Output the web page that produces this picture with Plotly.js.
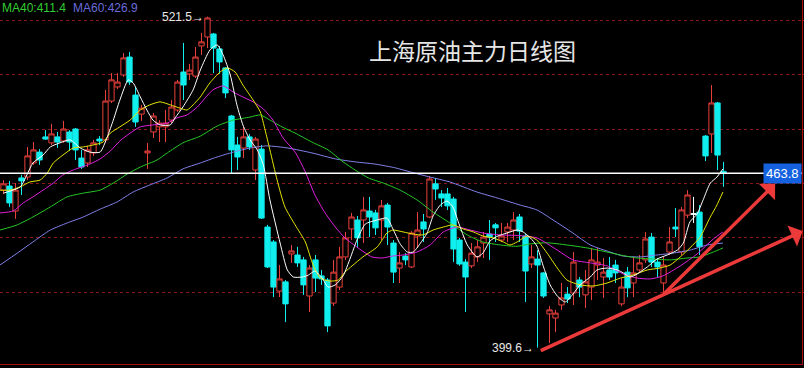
<!DOCTYPE html>
<html>
<head>
<meta charset="utf-8">
<script src="https://cdn.plot.ly/plotly-3.0.1.min.js"></script>
<style>html,body{margin:0;padding:0;background:#000;}#chart{width:804px;height:368px;}</style>
</head>
<body>
<div id="chart"></div>
<script>
// ---- daily candles (price) ----
const open = [457.6,459.1,449.9,462.1,462.4,467.6,471.6,477.2,475.0,477.2,475.7,479.0,480.1,469.4,467.6,471.3,476.4,476.1,490.4,495.6,500.0,506.6,492.6,485.6,471.3,479.0,480.9,480.9,483.4,487.1,501.1,500.4,499.6,510.7,514.0,515.1,509.6,502.6,484.9,474.2,473.1,477.2,465.0,472.7,444.0,438.5,420.4,423.8,434.1,433.7,431.9,418.6,431.9,426.0,424.5,416.0,421.9,433.0,443.3,446.6,446.6,449.9,449.2,446.6,452.1,438.1,428.9,433.3,429.3,440.7,445.9,447.7,459.9,456.2,456.2,454.3,439.2,431.1,429.7,433.0,438.1,441.4,444.8,439.2,442.2,442.9,447.7,440.7,430.4,432.2,427.1,412.0,410.5,415.3,419.3,419.7,424.5,419.0,421.9,430.0,425.6,428.2,430.0,415.7,427.4,423.4,428.2,431.9,440.3,431.1,423.4,434.8,444.0,434.8,448.4,448.8,449.5,477.5,478.3,489.7,464.5];
const high = [461.3,461.0,460.2,463.2,473.5,475.3,472.7,479.7,482.0,479.0,483.1,479.7,480.5,472.4,473.9,476.1,477.5,494.5,500.7,500.7,508.1,508.5,495.6,489.0,475.0,486.0,483.4,487.1,490.8,498.2,511.8,504.1,510.3,515.5,521.5,515.5,510.7,502.9,485.3,477.2,480.9,478.3,477.2,474.2,444.8,439.2,430.0,424.5,437.4,436.7,433.0,430.0,433.7,428.2,425.2,431.9,436.7,442.2,449.2,448.1,455.1,455.1,450.3,454.0,452.9,439.2,434.8,434.4,442.5,449.5,448.8,462.8,462.1,457.6,458.4,455.1,440.0,432.2,438.1,439.2,442.2,446.6,445.5,445.5,445.5,449.5,448.8,441.4,437.4,435.5,427.4,414.9,413.5,423.4,421.9,434.8,425.6,428.2,436.3,436.3,432.6,433.0,431.9,425.2,429.3,433.0,433.7,442.2,441.8,432.6,433.0,444.0,451.0,451.4,457.6,455.1,452.1,477.9,496.3,490.1,468.0];
const low = [456.2,451.4,447.0,455.8,461.3,466.9,466.9,476.1,474.2,473.1,475.0,472.0,468.7,465.4,466.1,470.2,474.2,475.0,489.7,494.8,499.3,496.3,480.9,483.1,465.4,476.8,475.3,475.3,482.3,486.4,490.8,498.2,498.9,507.4,509.9,500.7,500.4,491.5,463.9,465.0,469.4,472.4,461.3,447.0,428.9,418.2,418.2,409.0,430.8,429.3,419.0,412.7,420.1,422.7,405.3,414.9,420.8,431.9,439.2,436.7,438.1,440.3,441.1,439.2,437.4,423.4,423.4,430.0,428.9,436.3,438.5,447.3,454.0,451.4,450.3,431.1,429.7,412.7,428.9,431.1,432.6,431.9,438.5,438.5,438.5,439.2,438.5,416.4,428.9,399.6,417.9,401.3,405.3,413.5,416.0,415.3,418.2,414.2,417.1,424.5,417.9,424.5,423.4,414.9,418.2,418.2,427.1,430.8,429.3,425.2,419.7,433.7,440.3,433.7,447.3,445.5,433.7,468.3,471.3,465.0,458.8];
const close = [459.9,452.9,457.6,461.0,470.2,472.4,468.7,476.4,478.3,475.3,480.1,475.3,472.4,466.1,472.4,475.0,475.7,490.4,498.2,497.4,506.3,497.4,482.7,487.8,472.0,484.9,482.3,482.3,488.2,497.4,496.3,501.8,506.6,512.2,521.0,509.9,504.8,493.4,472.4,469.8,477.2,473.5,476.4,447.3,429.3,421.9,424.9,415.7,435.2,430.8,422.7,428.9,425.2,424.9,407.6,427.4,433.0,440.0,447.7,440.0,450.3,447.7,443.7,451.8,444.0,427.4,430.8,431.9,441.8,442.9,443.3,461.7,458.0,454.7,451.8,435.9,430.4,425.6,434.4,436.7,440.3,440.3,443.7,440.7,444.0,446.6,442.5,427.8,433.0,430.0,418.6,413.5,412.3,417.9,417.5,431.1,421.9,423.8,431.9,431.1,427.4,425.6,427.1,421.9,421.6,427.1,430.8,439.6,431.1,429.3,430.0,438.5,443.3,450.3,455.8,448.8,436.7,470.2,489.7,470.5,463.8];
const whiteDoji = [115];

// ---- moving averages (candle index, price) ----
const ma5X = [0,2.8,3.9,4.9,6.6,7.8,9.4,11.1,12.8,14.4,16.1,17.3,18.3,19.4,20.8,21.6,22.8,23.9,24.9,26.1,27.8,28.6,29.9,31.6,32.8,34.4,35.6,36.6,37.8,38.9,39.9,41.1,42.3,43.3,44.4,46.1,47.3,48.3,49.8,50.8,51.9,53.1,54.1,55.3,56.6,57.8,58.9,60.3,62.3,63.9,64.9,66.1,67.3,68.3,69.4,70.6,71.6,72.8,73.9,74.9,75.8,77.3,78.9,79.9,81.1,82.4,83.9,85.6,86.6,87.8,88.9,89.9,91.1,92.3,93.6,94.8,96.1,97.8,98.9,100.6,102.3,103.3,104.4,105.6,107.3,108.9,110.6,112.3,113.3,114.4,115.6,116.6,117.8,118.9,119.9];
const ma5 = [456.5,458.8,463.2,467.6,470.5,473.5,475.0,476.1,473.1,471.6,471.6,477.2,483.4,490.8,498.2,497.1,491.9,487.1,483.4,481.6,481.6,484.2,488.2,494.5,501.8,509.2,511.1,507.4,500.0,489.0,481.6,476.1,472.4,466.9,454.0,438.1,428.2,425.6,425.6,426.3,427.8,425.2,421.9,422.7,426.0,432.6,439.2,445.1,446.6,447.3,443.3,437.8,434.8,434.8,437.8,441.8,448.1,452.1,453.6,451.4,445.9,437.4,433.0,434.4,438.9,440.7,441.8,442.9,442.2,440.0,437.0,430.0,422.7,418.6,416.4,419.0,422.7,425.6,428.2,428.9,428.2,427.1,425.6,426.7,429.3,432.2,433.7,435.5,438.1,445.9,448.8,454.0,460.2,462.4,465.4];

const ma10X = [-0.6,1.1,2.8,4.4,6.1,7.3,8.3,9.9,11.6,13.3,14.9,16.6,17.8,19.4,21.1,22.8,24.4,26.1,27.8,29.4,30.6,31.6,32.8,34.4,36.1,37.3,38.6,39.9,41.6,42.8,43.6,44.4,45.6,46.9,48.6,50.3,51.6,52.8,54.4,55.8,56.9,58.1,59.9,62.3,63.9,64.9,66.6,68.3,69.9,71.6,73.3,74.9,76.6,78.3,79.9,81.6,83.3,84.4,85.6,87.3,88.9,90.6,92.3,93.9,96.1,98.3,100.6,102.8,104.9,107.3,109.4,111.1,112.8,114.4,116.1,117.8,118.9,119.9];
const ma10 = [457.6,457.6,458.8,460.6,461.3,463.9,467.6,470.5,473.1,473.5,474.2,475.3,478.6,480.9,483.4,487.1,489.0,490.1,489.0,487.8,487.1,489.0,491.9,497.1,501.1,502.6,501.1,496.3,490.8,486.4,479.7,472.4,461.3,451.4,444.8,438.5,430.0,425.2,424.1,424.5,427.4,429.7,433.0,436.7,441.8,442.9,442.2,441.4,441.1,442.9,444.0,444.8,443.3,442.2,440.7,440.0,438.5,437.4,438.5,440.7,439.2,434.4,428.9,424.5,422.7,422.3,423.4,425.2,426.3,428.2,428.9,430.0,433.0,436.3,440.3,447.7,452.1,456.9];

const ma20X = [-0.6,1.6,3.3,4.9,6.6,8.3,9.9,11.6,14.4,16.1,17.8,19.4,21.1,22.8,24.9,27.3,28.9,30.6,32.3,33.6,34.9,36.6,38.3,39.9,41.6,43.3,44.9,46.6,48.6,50.3,51.9,53.6,55.3,56.9,59.1,61.4,63.1,64.8,66.6,68.9,71.1,73.3,75.6,77.8,79.9,82.8,85.6,88.9,92.3,94.9,97.8,100.6,103.3,105.6,107.8,109.9,112.8,115.6,118.3,119.9];
const ma20 = [449.2,449.9,452.9,455.1,457.6,460.2,463.2,465.0,467.2,469.1,472.0,475.7,478.6,480.9,481.6,482.3,484.2,485.3,488.2,491.5,494.5,496.0,493.7,491.9,490.1,487.5,483.4,476.8,471.6,464.3,455.8,449.2,444.0,440.0,436.3,433.0,432.6,433.3,433.7,434.8,437.4,442.2,444.0,442.9,441.8,441.1,440.9,440.0,435.5,431.9,430.8,429.7,426.7,425.2,424.9,426.0,429.7,434.1,439.6,442.2];

const ma40X = [-0.6,2.3,4.9,7.8,10.6,13.3,16.1,18.3,20.6,22.8,25.6,27.3,29.9,32.8,35.6,38.3,41.1,42.8,44.1,46.4,48.6,51.4,54.1,56.6,58.6,60.8,63.3,66.1,68.9,71.6,74.4,77.3,79.9,82.8,85.6,87.8,90.6,93.9,97.3,100.6,102.8,105.6,108.3,111.1,113.9,116.1,118.3,119.9];
const ma40 = [442.9,444.8,447.7,451.4,455.1,456.5,457.6,460.2,463.5,466.1,468.7,471.3,475.0,477.5,481.2,483.4,484.5,485.3,483.8,480.9,478.6,475.3,472.4,468.0,465.0,462.1,460.2,457.6,454.0,449.5,445.5,441.1,438.5,437.4,436.9,437.8,438.2,437.4,436.3,434.8,433.7,432.6,432.2,431.9,432.6,433.0,434.8,436.3];

const ma60X = [-0.6,2.3,4.9,7.8,10.6,13.3,16.1,18.9,21.6,24.4,27.3,29.9,32.8,35.6,38.3,41.1,43.9,47.4,51.4,55.3,58.6,61.9,65.3,67.8,71.1,74.4,78.9,82.3,86.1,88.9,91.6,94.9,97.8,101.1,103.3,106.1,108.9,111.6,114.4,117.3,119.9];
const ma60 = [430.0,434.4,438.5,442.9,445.5,447.7,450.6,453.2,456.9,459.5,462.1,465.4,467.6,469.8,471.6,473.1,473.9,473.1,471.3,469.1,468.0,467.2,465.8,464.3,462.4,460.6,456.9,454.7,452.1,450.3,446.6,441.8,437.4,434.8,433.3,433.0,433.7,434.4,435.5,437.4,438.1];

const titleText = '上海原油主力日线图';
const legendTexts = ['MA40:411.4', 'MA60:426.9'];
const lastPrice = 463.8;
const highMark = {i: 34, v: 521.5};
const lowMark = {i: 89, v: 399.6};

// ---- build ----
const idx = open.map((_, i) => i);
const traces = [];
traces.push({
  type: 'candlestick', x: idx, open: open, high: high, low: low, close: close,
  increasing: {line: {color: '#e8403c', width: 1}, fillcolor: '#000000'},
  decreasing: {line: {color: '#10eeee', width: 1}, fillcolor: '#10eeee'},
  whiskerwidth: 0, hoverinfo: 'skip'
});
traces.push({
  type: 'candlestick', x: whiteDoji, open: whiteDoji.map(i => open[i]), high: whiteDoji.map(i => high[i]),
  low: whiteDoji.map(i => low[i]), close: whiteDoji.map(i => close[i]),
  increasing: {line: {color: '#ffffff', width: 1}, fillcolor: '#ffffff'},
  decreasing: {line: {color: '#ffffff', width: 1}, fillcolor: '#ffffff'},
  whiskerwidth: 0, hoverinfo: 'skip'
});
const maDefs = [
  [ma60X, ma60, '#8383ee'],
  [ma40X, ma40, '#25cc25'],
  [ma20X, ma20, '#e020e0'],
  [ma10X, ma10, '#e6e600'],
  [ma5X, ma5, '#ffffff']
];
maDefs.forEach(d => traces.push({
  type: 'scatter', mode: 'lines', x: d[0], y: d[1],
  line: {color: d[2], width: 1, shape: 'spline', smoothing: 0.6}, hoverinfo: 'skip'
}));

const plotW = 802, plotH = 364;
const layout = {
  width: 804, height: 368, autosize: false,
  margin: {l: 0, r: 2, t: 0, b: 4, pad: 0},
  paper_bgcolor: '#000000', plot_bgcolor: '#000000',
  showlegend: false,
  boxgap: 0.12, boxgroupgap: 0,
  xaxis: {range: [-0.583, 133.08], showgrid: false, zeroline: false, showticklabels: false,
          ticks: '', showline: true, linecolor: '#a81010', linewidth: 1,
          rangeslider: {visible: false}, fixedrange: true},
  yaxis: {range: [393.56, 527.62], side: 'right', tickvals: [420, 440, 460, 480, 500, 520],
          showticklabels: false, ticks: 'outside', ticklen: 3, tickcolor: '#a81010',
          showgrid: true, gridcolor: '#8a1818', griddash: 'dot', gridwidth: 1,
          showline: true, linecolor: '#a81010', linewidth: 1, zeroline: false, fixedrange: true},
  shapes: [
    {type: 'line', xref: 'paper', x0: 0, x1: 1, yref: 'y', y0: lastPrice, y1: lastPrice,
     line: {color: '#ffffff', width: 1.5}, layer: 'above'}
  ],
  annotations: [
    {xref: 'paper', yref: 'paper', x: 473 / plotW, y: 1 - 50 / plotH, text: titleText, showarrow: false,
     xanchor: 'center', yanchor: 'middle', font: {family: 'Noto Sans CJK SC', size: 23, color: '#e6e6e6'}},
    {xref: 'paper', yref: 'paper', x: 1 / plotW, y: 1, text: legendTexts[0], showarrow: false,
     xanchor: 'left', yanchor: 'top', borderpad: 0, font: {family: 'Liberation Sans', size: 12, color: '#33cc33'}},
    {xref: 'paper', yref: 'paper', x: 72 / plotW, y: 1, text: legendTexts[1], showarrow: false,
     xanchor: 'left', yanchor: 'top', borderpad: 0, font: {family: 'Liberation Sans', size: 12, color: '#6c6cdc'}},
    {xref: 'x', yref: 'y', x: highMark.i, y: highMark.v, xshift: -2, text: highMark.v.toFixed(1) + '→', showarrow: false,
     xanchor: 'right', yanchor: 'middle', font: {family: 'Liberation Sans', size: 12, color: '#e8e8e8'}},
    {xref: 'x', yref: 'y', x: lowMark.i, y: lowMark.v, xshift: -2, text: lowMark.v.toFixed(1) + '→', showarrow: false,
     xanchor: 'right', yanchor: 'middle', font: {family: 'Liberation Sans', size: 12, color: '#e8e8e8'}},
    {xref: 'paper', yref: 'y', x: 1, y: lastPrice, text: lastPrice.toFixed(1), showarrow: false,
     xanchor: 'right', yanchor: 'middle', bgcolor: '#1562e0', borderpad: 2,
     font: {family: 'Liberation Sans', size: 13, color: '#ffffff'}},
    {xref: 'x', yref: 'y', axref: 'x', ayref: 'y', x: 133.2, y: 442.5, ax: 89.3, ay: 398.2, text: '',
     showarrow: true, arrowhead: 1, arrowsize: 1.1, arrowwidth: 3.5, arrowcolor: '#ec3a3a', standoff: 0, startstandoff: 0},
    {xref: 'x', yref: 'y', axref: 'x', ayref: 'y', x: 128.6, y: 459.9, ax: 109.9, ay: 419.0, text: '',
     showarrow: true, arrowhead: 1, arrowsize: 1.1, arrowwidth: 3.5, arrowcolor: '#ec3a3a', standoff: 0, startstandoff: 0}
  ]
};
Plotly.newPlot('chart', traces, layout, {staticPlot: true, displayModeBar: false});
</script>
</body>
</html>
